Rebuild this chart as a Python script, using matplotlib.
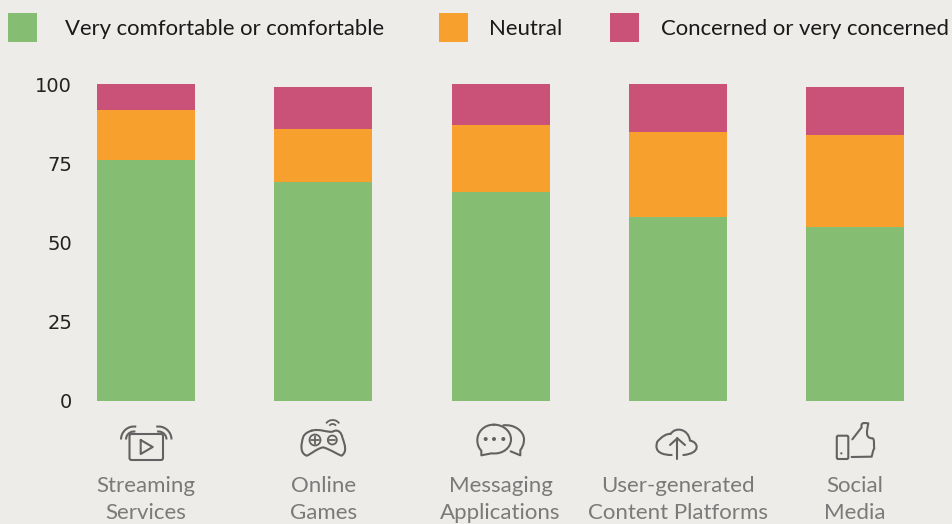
import matplotlib
matplotlib.use("Agg")
import numpy as np
import matplotlib.pyplot as plt
from matplotlib.patches import Arc, Circle, FancyBboxPatch, PathPatch, Rectangle
from matplotlib.path import Path

W, H = 952, 524
BG = "#EDECE8"
ICON = "#626262"

# Chart data
categories = ["Streaming\nServices", "Online\nGames", "Messaging\nApplications",
              "User-generated\nContent Platforms", "Social\nMedia"]
comfortable = [76, 69, 66, 58, 55]
neutral = [15.8, 16.8, 21, 27, 29]
concerned = [8.2, 13.2, 13, 15, 15]
series_names = ["Very comfortable or comfortable", "Neutral", "Concerned or very concerned"]
series_colors = ["#85BE72", "#F8A02E", "#CA5177"]
y_ticks = [0, 25, 50, 75, 100]

fig = plt.figure(figsize=(W / 100, H / 100), dpi=100, facecolor=BG)

# Axes placed so the plot area lines up with the picture (pixels)
ax = fig.add_axes([75 / W, 1 - 401 / H, 877 / W, 317 / H], facecolor=BG)
x = np.arange(len(categories))
bottom = np.zeros(len(categories))
for vals, col in zip([comfortable, neutral, concerned], series_colors):
    ax.bar(x, vals, width=0.553, bottom=bottom, color=col, linewidth=0)
    bottom += np.array(vals)

ax.set_xlim(-0.4006, 4.547)
ax.set_ylim(0, 100)
ax.set_yticks(y_ticks)
ax.set_xticks(x, categories)
for s in ax.spines.values():
    s.set_visible(False)
ax.tick_params(axis="y", length=0, pad=2, labelsize=14, labelcolor="#222222")
ax.tick_params(axis="x", length=0, pad=54, labelsize=16, labelcolor="#7A7A7A")
for t in ax.get_yticklabels():
    t.set_fontfamily("DejaVu Sans")
for t in ax.get_xticklabels():
    t.set_fontfamily("Lato")
    t.set_linespacing(1.45)
    t.set_va("top")

# Overlay in pixel coordinates for legend and icons
ov = fig.add_axes([0, 0, 1, 1], facecolor="none")
ov.set_xlim(0, W)
ov.set_ylim(H, 0)
ov.axis("off")

# Legend
for name, col, sx, tx in zip(series_names, series_colors, [8, 439, 610], [65, 489, 661]):
    ov.add_patch(Rectangle((sx, 13), 29, 29, color=col, lw=0))
    ov.text(tx, 29, name, fontsize=15.9, family="Lato", color="#1A1A1A", va="center", ha="left")


def stroke(verts, codes=None, lw=1.5):
    ov.add_patch(PathPatch(Path(verts, codes), fc="none", ec=ICON, lw=lw, capstyle="round", joinstyle="round"))


def arc(cx, cy, r, t1, t2, lw=1.5):
    # y axis is flipped, so the angles run clockwise on screen
    ov.add_patch(Arc((cx, cy), 2 * r, 2 * r, theta1=t1, theta2=t2, ec=ICON, lw=lw))


def z1(pts):
    return [(90 + a / 3, 410 + b / 3) for a, b in pts]


def z2(pts):
    return [(620 + a / 3, 410 + b / 3) for a, b in pts]


M, L, C = Path.MOVETO, Path.LINETO, Path.CURVE4

# Streaming icon
ov.add_patch(FancyBboxPatch((129.5, 434), 33.5, 26, boxstyle="round,pad=0,rounding_size=2", fc="none", ec=ICON, lw=1.5))
stroke([(140.7, 440), (140.7, 454), (152.7, 447), (140.7, 440)])
for r in (8, 13):
    arc(134, 439.5, r, 180, 280)
    arc(158.5, 439.5, r, 260, 360)

# Game controller icon
pad = z1([(665, 62), (690, 55), (710, 68), (728, 65), (745, 55), (755, 70), (757, 82),
          (765, 105), (772, 125), (755, 137), (745, 135), (725, 120), (700, 112), (680, 115),
          (660, 135), (650, 137), (630, 130), (632, 105), (640, 80), (645, 70), (655, 65), (665, 62)])
stroke(pad, [M] + [C] * 21)
ov.add_patch(Circle(z1([(675, 90)])[0], 5.5, fc="none", ec=ICON, lw=1.3))
stroke(z1([(662, 90), (688, 90)]), lw=1.3)
stroke(z1([(675, 77), (675, 103)]), lw=1.3)
ov.add_patch(Circle(z1([(727, 90)])[0], 4.5, fc="none", ec=ICON, lw=1.3))
stroke(z1([(718, 90), (736, 90)]), lw=1.3)
gx, gy = z1([(728, 54)])[0]
arc(gx, gy, 4, 215, 325, lw=1.3)
arc(gx, gy, 8, 215, 325, lw=1.3)

# Messaging icon
back = z1([(1240, 46), (1275, 42), (1302, 65), (1302, 88), (1302, 105), (1295, 115), (1291, 120),
           (1291, 136), (1262, 124)])
stroke(back, [M, C, C, C, C, C, C, L, L])
front = z1([(1212, 44), (1180, 44), (1162, 68), (1162, 90), (1162, 105), (1167, 115), (1174, 122),
            (1174, 136), (1205, 130), (1240, 134), (1263, 112), (1263, 88), (1263, 64), (1240, 44), (1212, 44)])
stroke(front, [M, C, C, C, C, C, C, L, L, C, C, C, C, C, C])
for d in (1187, 1212, 1240):
    ov.add_patch(Circle(z1([(d, 87)])[0], 2.0, fc=ICON, ec="none"))

# Cloud icon
cloud = z2([(155, 135), (130, 135), (100, 128), (112, 95), (125, 80), (140, 70), (152, 72),
            (165, 50), (205, 55), (210, 92), (235, 95), (245, 130), (190, 135)])
stroke(cloud, [M, C, C, C, C, C, C, C, C, C, C, C, L])
stroke(z2([(172, 147), (172, 85)]))
stroke(z2([(150, 105), (172, 85), (195, 105)]))

# Thumbs up icon
ov.add_patch(FancyBboxPatch((836.8, 435.7), 11.5, 23.3, boxstyle="round,pad=0,rounding_size=1.5", fc="none", ec=ICON, lw=1.5))
ov.add_patch(Circle(z2([(664, 130)])[0], 1.1, fc=ICON, ec="none"))
thumb = z2([(697, 88), (725, 52), (722, 38), (730, 38), (745, 40), (740, 65), (735, 85),
            (758, 85), (765, 90), (760, 105), (763, 115), (758, 122), (758, 130), (755, 140), (695, 141)])
stroke(thumb, [M, L, C, C, C, C, C, L, C, C, C, C, C, C, L])

fig.savefig("out.png", dpi=100, facecolor=BG)
